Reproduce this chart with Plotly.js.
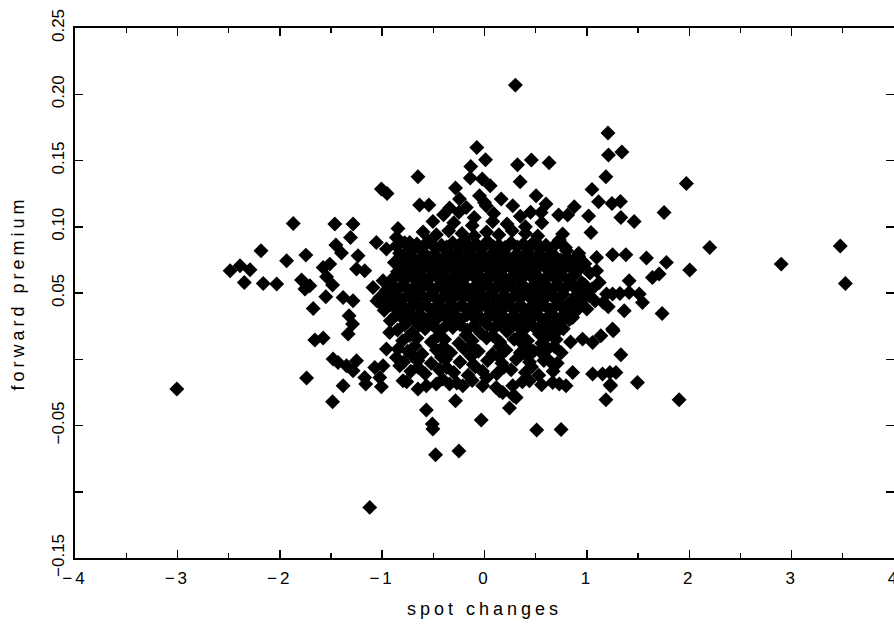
<!DOCTYPE html>
<html>
<head>
<meta charset="utf-8">
<script src="https://cdn.plot.ly/plotly-3.0.1.min.js"></script>
<style>
html,body{margin:0;padding:0;background:#fff;}
#chart{width:894px;height:627px;}
text.xtitle, text.ytitle { letter-spacing: 4px; }
g.xtick text { letter-spacing: 3px; }
</style>
</head>
<body>
<div id="chart"></div>
<script>
// Outlying / peripheral observations (spot changes, forward premium)
const outerX = [
-3.005,-1.121,0.302,1.206,1.211,1.342,1.186,-0.075,0.010,-0.134,
0.322,0.458,0.631,0.348,-0.139,-0.022,0.056,-0.650,-0.283,1.050,
1.114,1.245,1.328,1.017,1.332,1.462,0.877,0.724,0.812,0.163,
0.504,0.601,-0.049,-0.244,-0.341,-0.178,-0.634,-0.543,-0.504,0.276,
0.017,0.763,1.040,-1.007,-0.952,-1.462,-1.284,-1.309,-0.845,-1.745,
-1.452,-1.397,-1.235,-1.056,-0.958,-0.861,-0.731,-0.682,0.731,0.553,
0.000,-1.868,-2.183,-1.933,-2.485,-2.388,-2.290,-2.346,-2.161,-2.030,
-1.787,-1.706,-1.754,-1.576,-1.511,-1.543,-1.484,-1.550,-1.673,-1.323,
-1.250,-1.170,-1.381,-1.284,-0.861,-0.748,-0.991,-0.926,-0.861,-0.796,
-1.089,-1.023,-1.289,-1.332,-1.657,-1.576,-1.479,-1.430,-1.348,-1.250,
-1.284,-1.738,-1.381,-1.484,-1.170,-1.160,-1.023,-1.007,-0.926,-0.958,
-0.845,-0.991,-0.828,-0.991,-0.763,-0.796,-0.568,-0.510,-0.504,-0.283,
-0.032,0.244,0.283,0.510,0.748,-0.478,-0.250,1.186,1.228,0.558,
0.731,0.796,0.178,-0.017,0.114,-0.650,-0.568,-0.471,-0.341,-0.212,
0.958,1.056,1.056,0.861,0.666,0.309,0.439,0.146,0.276,0.406,
0.536,0.634,0.731,0.796,0.536,0.601,0.666,-0.861,-1.072,1.251,
1.381,1.582,1.640,1.706,1.413,1.121,1.251,1.413,1.511,1.543,
1.365,1.251,1.137,1.332,1.153,1.284,1.494,0.699,0.373,0.861,
1.972,1.754,1.095,2.200,2.005,2.898,3.475,3.525,1.095,1.192,
1.323,1.160,1.209,1.735,1.257,1.225,1.231,1.901,1.777
];
const outerY = [
-0.0225,-0.1118,0.2069,0.1707,0.1541,0.1564,0.1377,0.1598,0.1506,0.1455,
0.1468,0.1503,0.1483,0.1340,0.1368,0.1360,0.1309,0.1377,0.1292,0.1282,
0.1189,0.1176,0.1191,0.1081,0.1070,0.1040,0.1151,0.1088,0.1088,0.1209,
0.1234,0.1171,0.1234,0.1209,0.1141,0.1146,0.1164,0.1164,0.1040,0.1158,
0.1158,0.0945,0.0957,0.1285,0.1251,0.1020,0.1020,0.0919,0.0987,0.0786,
0.0862,0.0802,0.0781,0.0881,0.0832,0.0857,0.0881,0.0844,0.0900,0.1108,
0.1183,0.1025,0.0819,0.0743,0.0668,0.0705,0.0675,0.0580,0.0572,0.0568,
0.0598,0.0555,0.0530,0.0693,0.0718,0.0623,0.0560,0.0472,0.0383,0.0328,
0.0681,0.0668,0.0466,0.0442,0.0919,0.0819,0.0592,0.0492,0.0417,0.0366,
0.0542,0.0466,0.0266,0.0190,0.0145,0.0160,0.0002,-0.0024,-0.0049,-0.0011,
-0.0087,-0.0142,-0.0200,-0.0321,-0.0137,-0.0187,-0.0137,-0.0208,0.0202,0.0077,
0.0077,-0.0049,-0.0049,0.0404,0.0315,-0.0162,-0.0383,-0.0489,-0.0527,-0.0313,
-0.0459,-0.0368,-0.0275,-0.0534,-0.0530,-0.0721,-0.0693,-0.0306,-0.0192,-0.0192,
-0.0187,-0.0200,-0.0251,-0.0200,-0.0213,-0.0225,-0.0200,-0.0187,-0.0187,-0.0200,
0.0152,0.0127,-0.0112,-0.0100,-0.0175,-0.0288,-0.0162,-0.0238,-0.0200,0.0240,
0.0190,0.0303,0.0266,0.0328,0.0064,0.0014,-0.0036,0.0014,-0.0062,0.0789,
0.0789,0.0764,0.0617,0.0643,0.0592,0.0580,0.0492,0.0504,0.0492,0.0429,
0.0366,0.0228,0.0177,0.0034,-0.0112,-0.0100,-0.0175,0.0202,0.0115,0.0315,
0.1327,0.1108,0.0768,0.0844,0.0673,0.0718,0.0855,0.0572,0.0668,0.0492,
0.0497,0.0429,0.0396,0.0346,0.0215,-0.0100,-0.0200,-0.0306,0.0731
];
// Dense central cloud observations
const coreX = [
-0.40,-0.25,-0.10,0.09,0.35,0.45,
-0.30,-0.12,0.08,0.22,0.40,0.56,
-0.60,-0.47,-0.35,-0.22,-0.10,0.02,0.14,0.27,0.40,0.52,
-0.78,-0.66,-0.55,-0.42,-0.31,-0.20,-0.08,0.03,0.14,0.26,0.38,0.49,0.60,
-0.83,-0.72,-0.60,-0.49,-0.37,-0.26,-0.15,-0.03,0.08,0.19,0.31,0.42,0.54,0.66,0.80,0.92,
-0.88,-0.76,-0.64,-0.52,-0.41,-0.30,-0.19,-0.07,0.05,0.16,0.27,0.39,0.50,0.61,0.74,0.86,0.98,
-0.85,-0.73,-0.62,-0.50,-0.38,-0.27,-0.15,-0.04,0.07,0.18,0.30,0.41,0.52,0.64,0.77,0.90,1.03,
-0.92,-0.80,-0.68,-0.57,-0.45,-0.33,-0.22,-0.10,0.01,0.12,0.23,0.35,0.46,0.57,0.69,0.82,0.95,
-0.96,-0.84,-0.72,-0.61,-0.49,-0.37,-0.26,-0.14,-0.03,0.08,0.20,0.31,0.43,0.54,0.66,0.79,0.92,1.05,
-1.05,-0.93,-0.80,-0.68,-0.56,-0.45,-0.33,-0.21,-0.10,0.02,0.13,0.25,0.36,0.48,0.59,0.71,0.84,0.97,1.08,
-0.98,-0.86,-0.74,-0.63,-0.51,-0.40,-0.28,-0.17,-0.05,0.06,0.18,0.29,0.41,0.52,0.64,0.76,0.89,1.00,
-0.92,-0.80,-0.69,-0.57,-0.46,-0.34,-0.23,-0.11,0.00,0.12,0.23,0.35,0.47,0.58,0.70,0.83,
-0.85,-0.71,-0.58,-0.44,-0.31,-0.17,-0.04,0.09,0.22,0.36,0.49,0.63,0.77,
-0.80,-0.66,-0.52,-0.39,-0.25,-0.12,0.02,0.15,0.29,0.42,0.56,0.70,0.84,
-0.75,-0.61,-0.47,-0.33,-0.20,-0.06,0.08,0.21,0.35,0.48,0.62,0.75,
-0.79,-0.65,-0.52,-0.38,-0.24,-0.11,0.03,0.17,0.31,0.44,0.58,0.71,
-0.72,-0.58,-0.44,-0.30,-0.16,-0.02,0.12,0.26,0.40,0.53,0.67,
-0.76,-0.41,-0.27,-0.12,0.02,0.37
];
const coreY = [
0.109,0.111,0.107,0.110,0.108,0.111,
0.103,0.101,0.104,0.102,0.100,0.103,
0.096,0.094,0.097,0.095,0.093,0.096,0.094,0.097,0.095,0.093,
0.088,0.087,0.089,0.086,0.088,0.090,0.087,0.089,0.086,0.088,0.087,0.089,0.086,
0.080,0.082,0.081,0.079,0.082,0.080,0.081,0.083,0.080,0.082,0.079,0.081,0.083,0.080,0.082,0.080,
0.073,0.075,0.074,0.072,0.075,0.073,0.074,0.076,0.073,0.075,0.072,0.074,0.076,0.073,0.075,0.074,0.072,
0.066,0.068,0.067,0.065,0.068,0.066,0.067,0.069,0.066,0.068,0.065,0.067,0.069,0.066,0.068,0.066,0.065,
0.059,0.061,0.060,0.058,0.061,0.059,0.060,0.062,0.059,0.061,0.058,0.060,0.062,0.059,0.061,0.060,0.058,
0.052,0.053,0.051,0.054,0.052,0.050,0.053,0.052,0.054,0.051,0.053,0.052,0.050,0.053,0.052,0.054,0.051,0.053,
0.044,0.046,0.045,0.043,0.046,0.044,0.045,0.047,0.044,0.046,0.043,0.045,0.047,0.044,0.046,0.045,0.043,0.046,0.044,
0.037,0.038,0.036,0.039,0.037,0.035,0.038,0.037,0.039,0.036,0.038,0.037,0.035,0.038,0.037,0.039,0.036,0.038,
0.029,0.031,0.030,0.028,0.031,0.029,0.030,0.032,0.029,0.031,0.028,0.030,0.032,0.029,0.031,0.030,
0.022,0.020,0.023,0.021,0.024,0.022,0.020,0.023,0.021,0.022,0.024,0.021,0.023,
0.014,0.016,0.013,0.015,0.012,0.014,0.016,0.013,0.015,0.014,0.012,0.015,0.013,
0.006,0.004,0.007,0.005,0.008,0.006,0.004,0.007,0.005,0.006,0.008,0.005,
-0.002,-0.001,-0.003,0.000,-0.002,-0.004,-0.001,-0.003,0.000,-0.002,-0.001,-0.003,
-0.009,-0.011,-0.008,-0.010,-0.012,-0.009,-0.011,-0.008,-0.010,-0.012,-0.009,
-0.017,-0.015,-0.018,-0.016,-0.014,-0.017
];
// Further observations packed between the rows of the central cloud
const fillX = [
-0.72,-0.60,-0.48,-0.37,-0.25,-0.14,-0.02,0.09,0.20,0.32,0.43,0.55,0.67,0.79,
-0.82,-0.70,-0.58,-0.46,-0.35,-0.24,-0.13,-0.01,0.11,0.22,0.33,0.45,0.56,0.68,0.80,0.92,
-0.79,-0.68,-0.56,-0.44,-0.33,-0.21,-0.10,0.01,0.12,0.24,0.35,0.46,0.58,0.70,0.83,0.96,
-0.86,-0.74,-0.63,-0.51,-0.39,-0.28,-0.16,-0.05,0.06,0.17,0.29,0.40,0.51,0.63,0.75,0.88,
-0.90,-0.78,-0.66,-0.55,-0.43,-0.31,-0.20,-0.08,0.03,0.14,0.26,0.37,0.48,0.60,0.72,0.85,0.98,
-0.99,-0.87,-0.74,-0.62,-0.51,-0.39,-0.27,-0.16,-0.04,0.07,0.19,0.30,0.42,0.53,0.65,0.77,0.90,1.02,
-0.92,-0.80,-0.69,-0.57,-0.45,-0.34,-0.22,-0.11,0.01,0.12,0.24,0.35,0.47,0.58,0.70,0.82,0.94,
-0.86,-0.75,-0.63,-0.52,-0.40,-0.29,-0.17,-0.06,0.06,0.17,0.29,0.41,0.52,0.64,0.77,
-0.78,-0.64,-0.51,-0.37,-0.24,-0.10,0.03,0.16,0.29,0.43,0.56,0.70,
-0.73,-0.45,-0.18,0.08,0.35,0.62,
-0.68,-0.40,-0.13,0.15,0.41,0.68,
-0.70,-0.42,-0.13,0.14,0.42,
-0.65,-0.37,-0.09,0.19,0.46
];
const fillY = [
0.0845,0.0850,0.0840,0.0848,0.0843,0.0846,0.0841,0.0849,0.0844,0.0847,0.0842,0.0845,0.0848,0.0843,
0.0775,0.0772,0.0778,0.0774,0.0777,0.0771,0.0776,0.0773,0.0779,0.0775,0.0772,0.0777,0.0774,0.0776,0.0773,0.0778,
0.0705,0.0702,0.0708,0.0704,0.0707,0.0701,0.0706,0.0703,0.0709,0.0705,0.0702,0.0707,0.0704,0.0706,0.0703,0.0708,
0.0635,0.0632,0.0638,0.0634,0.0637,0.0631,0.0636,0.0633,0.0639,0.0635,0.0632,0.0637,0.0634,0.0636,0.0633,0.0638,
0.0560,0.0557,0.0563,0.0559,0.0562,0.0556,0.0561,0.0558,0.0564,0.0560,0.0557,0.0562,0.0559,0.0561,0.0558,0.0563,0.0560,
0.0485,0.0482,0.0488,0.0484,0.0487,0.0481,0.0486,0.0483,0.0489,0.0485,0.0482,0.0487,0.0484,0.0486,0.0483,0.0488,0.0485,0.0482,
0.0410,0.0407,0.0413,0.0409,0.0412,0.0406,0.0411,0.0408,0.0414,0.0410,0.0407,0.0412,0.0409,0.0411,0.0408,0.0413,0.0410,
0.0335,0.0332,0.0338,0.0334,0.0337,0.0331,0.0336,0.0333,0.0339,0.0335,0.0332,0.0337,0.0334,0.0336,0.0333,
0.0260,0.0257,0.0263,0.0259,0.0262,0.0256,0.0261,0.0258,0.0264,0.0260,0.0257,0.0262,
0.0180,0.0177,0.0183,0.0179,0.0182,0.0178,
0.0100,0.0097,0.0103,0.0099,0.0102,0.0098,
0.0020,0.0017,0.0023,0.0019,0.0022,
-0.0060,-0.0063,-0.0057,-0.0061,-0.0058
];

const xTickVals = [-4,-3,-2,-1,0,1,2,3,4];
const xTickText = ["\u22124","\u22123","\u22122","\u22121","0","1","2","3","4"];
const yTickVals = [-0.15,-0.10,-0.05,0,0.05,0.10,0.15,0.20,0.25];
const yTickText = ["\u22120.15","","\u22120.05","","0.05","0.10","0.15","0.20","0.25"];

const FONT = "Liberation Sans, Arial, sans-serif";

const trace = {
  type: "scatter",
  mode: "markers",
  x: outerX.concat(coreX, fillX),
  y: outerY.concat(coreY, fillY),
  marker: {symbol: "diamond", size: 11.5, color: "#000", line: {width: 0}},
  hoverinfo: "x+y"
};

const layout = {
  width: 894, height: 627,
  margin: {l: 75, r: 0, t: 28, b: 69, autoexpand: false},
  paper_bgcolor: "#fff", plot_bgcolor: "#fff",
  showlegend: false,
  font: {family: FONT, color: "#000", size: 16},
  xaxis: {
    range: [-4, 4],
    showgrid: false, zeroline: false,
    showline: true, linewidth: 2, linecolor: "#000", mirror: "ticks",
    ticks: "inside", ticklen: 8, tickwidth: 1.5, tickcolor: "#000",
    tickmode: "array", tickvals: xTickVals, ticktext: xTickText,
    tickfont: {family: FONT, size: 17, color: "#000"},
    ticklabelstandoff: 4,
    ticklabeloverflow: "allow",
    minor: {dtick: 0.5, ticks: "inside", ticklen: 5, tickwidth: 1.2, tickcolor: "#000", showgrid: false},
    title: {text: "spot changes", font: {family: FONT, size: 18, color: "#000"}, standoff: 15}
  },
  yaxis: {
    range: [-0.15, 0.25],
    showgrid: false, zeroline: false,
    showline: true, linewidth: 2, linecolor: "#000", mirror: "ticks",
    ticks: "inside", ticklen: 8, tickwidth: 1.5, tickcolor: "#000",
    tickmode: "array", tickvals: yTickVals, ticktext: yTickText,
    tickangle: -90,
    tickfont: {family: FONT, size: 17, color: "#000"},
    ticklabelstandoff: 2,
    title: {text: "forward premium", font: {family: FONT, size: 18, color: "#000"}, standoff: 20}
  }
};

Plotly.newPlot("chart", [trace], layout, {staticPlot: true, displayModeBar: false});
</script>
</body>
</html>
